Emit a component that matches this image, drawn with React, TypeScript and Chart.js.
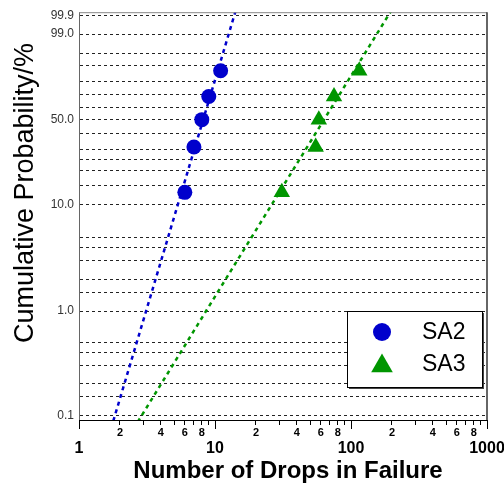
import React, { useEffect, useRef } from 'react';
import { Chart, registerables } from 'chart.js';

Chart.register(...registerables);

// ---- data ----
const seriesNames = ['SA2', 'SA3'];
const sa2Drops = [6, 7, 8, 9, 11];
const sa3Drops = [31, 55, 58, 75, 115];
const cumulativePct = [12.96, 31.48, 50, 68.52, 87.04];
// Weibull fit parameters (shape beta, scale eta) for the dashed lines
const sa2Beta = 4.38;
const sa2Eta = 8.9;
const sa3Beta = 2.12;
const sa3Eta = 75.3;
// y gridlines (percent) and which of them carry labels
const gridPct = [0.1, 0.15, 0.2, 0.3, 0.4, 0.5, 1, 1.5, 2, 3, 4, 5, 10, 15, 20, 25, 30, 40, 50, 60, 70, 80, 90, 95, 99, 99.9];
const labeledPct = [0.1, 1, 10, 50, 99, 99.9];
const yMinPct = 0.0902;
const yMaxPct = 99.943;
// x ticks
const xMinorTicks = [1, 2, 3, 4, 5, 6, 7, 8, 9, 10, 20, 30, 40, 50, 60, 70, 80, 90, 100, 200, 300, 400, 500, 600, 700, 800, 900, 1000];
const xMinorLabels = [2, 4, 6, 8];
const xMajorTicks = [1, 10, 100, 1000];
const xTitle = 'Number of Drops in Failure';
const yTitle = 'Cumulative Probability/%';

const FONT = '"Liberation Sans", Arial, sans-serif';
const BLUE = '#0000CC';
const GREEN = '#009600';

const weib = (pct: number) => Math.log(-Math.log(1 - pct / 100));
const fitLine = (beta: number, eta: number) =>
  [1, 1000].map((x) => ({ x, y: beta * (Math.log(x) - Math.log(eta)) }));

const decorPlugin = {
  id: 'decor',
  afterDraw(chart: any) {
    const { ctx, chartArea: a, scales } = chart;
    ctx.save();
    // frame top & right
    ctx.lineWidth = 1;
    ctx.strokeStyle = '#888';
    ctx.beginPath();
    ctx.moveTo(a.left, a.top + 0.5);
    ctx.lineTo(a.right, a.top + 0.5);
    ctx.stroke();
    ctx.strokeStyle = '#333';
    ctx.lineWidth = 1.5;
    ctx.beginPath();
    ctx.moveTo(a.right, a.top);
    ctx.lineTo(a.right, a.bottom);
    ctx.stroke();
    // long major ticks
    ctx.strokeStyle = '#000';
    ctx.lineWidth = 1;
    for (const v of xMajorTicks) {
      const px = Math.round(scales.x.getPixelForValue(v)) + 0.5;
      ctx.beginPath();
      ctx.moveTo(px, a.bottom);
      ctx.lineTo(px, a.bottom + 9);
      ctx.stroke();
    }
    // axis titles
    ctx.fillStyle = '#000';
    ctx.textAlign = 'center';
    ctx.textBaseline = 'middle';
    ctx.font = `bold 24px ${FONT}`;
    ctx.fillText(xTitle, 288, 471);
    ctx.save();
    ctx.translate(26, 193);
    ctx.rotate(-Math.PI / 2);
    ctx.font = `27px ${FONT}`;
    ctx.fillText(yTitle, 0, 0);
    ctx.restore();

    // legend
    const bx = 347, by = 311, bw = 135, bh = 76;
    ctx.fillStyle = '#444';
    ctx.fillRect(bx + 2, by + 2, bw, bh);
    ctx.fillStyle = '#fff';
    ctx.fillRect(bx, by, bw, bh);
    ctx.strokeStyle = '#000';
    ctx.lineWidth = 1;
    ctx.strokeRect(bx + 0.5, by + 0.5, bw, bh);
    const pts = chart.data.datasets.filter((d: any) => d.showLine === false);
    pts.forEach((d: any, i: number) => {
      const cx = 382, cy = 332 + i * 32;
      ctx.fillStyle = d.backgroundColor;
      ctx.beginPath();
      if (d.pointStyle === 'triangle') {
        const r = 12.5;
        for (let k = 0; k < 3; k++) {
          const ang = (k * 2 * Math.PI) / 3;
          const X = cx + Math.sin(ang) * r, Y = cy + 2 - Math.cos(ang) * r;
          k === 0 ? ctx.moveTo(X, Y) : ctx.lineTo(X, Y);
        }
        ctx.closePath();
      } else {
        ctx.arc(cx, cy, 9, 0, Math.PI * 2);
      }
      ctx.fill();
      ctx.fillStyle = '#000';
      ctx.textAlign = 'left';
      ctx.font = `23px ${FONT}`;
      ctx.fillText(d.label, 422, cy + 1);
    });
    ctx.restore();
  },
};

export default function App() {
  const ref = useRef<HTMLCanvasElement>(null);
  useEffect(() => {
    document.body.style.margin = '0';
    const canvas = ref.current!;
    const chart = new Chart(canvas, {
      type: 'line',
      data: {
        datasets: [
          {
            label: seriesNames[0],
            data: sa2Drops.map((x, i) => ({ x, y: weib(cumulativePct[i]) })),
            showLine: false,
            pointStyle: 'circle',
            pointRadius: 7.5,
            pointBorderWidth: 0,
            backgroundColor: BLUE,
            borderColor: BLUE,
          },
          {
            label: seriesNames[1],
            data: sa3Drops.map((x, i) => ({ x, y: weib(cumulativePct[i]) })),
            showLine: false,
            pointStyle: 'triangle',
            pointRadius: 9.5,
            pointBorderWidth: 0,
            backgroundColor: GREEN,
            borderColor: GREEN,
          },
          {
            label: seriesNames[0] + ' fit',
            data: fitLine(sa2Beta, sa2Eta),
            borderColor: BLUE,
            borderWidth: 2.5,
            borderDash: [4, 4],
            pointRadius: 0,
            fill: false,
          },
          {
            label: seriesNames[1] + ' fit',
            data: fitLine(sa3Beta, sa3Eta),
            borderColor: GREEN,
            borderWidth: 2.5,
            borderDash: [4, 4],
            pointRadius: 0,
            fill: false,
          },
        ],
      },
      options: {
        animation: false,
        responsive: false,
        events: [],
        layout: { padding: { top: 11, right: 17, left: 0, bottom: 0 } },
        plugins: { legend: { display: false }, tooltip: { enabled: false }, title: { display: false } },
        scales: {
          x: {
            type: 'logarithmic',
            position: 'bottom',
            min: 1,
            max: 1000,
            afterBuildTicks: (s: any) => {
              s.ticks = xMinorTicks.map((v) => ({ value: v }));
            },
            afterFit: (s: any) => {
              s.height = 18;
              s.paddingLeft = 0;
              s.paddingRight = 0;
            },
            ticks: {
              autoSkip: false,
              maxRotation: 0,
              padding: 1,
              color: '#000',
              font: { family: FONT, size: 11, weight: 'bold' },
              callback: (v: any) => {
                const n = Number(v);
                const mant = Math.round(n / Math.pow(10, Math.floor(Math.log10(n) + 1e-9)));
                return xMinorLabels.includes(mant) ? String(mant) : '';
              },
            },
            grid: { drawOnChartArea: false, drawTicks: true, tickLength: 5, color: '#000' },
            border: { color: '#000', width: 1 },
          },
          xMajor: {
            type: 'logarithmic',
            position: 'bottom',
            min: 1,
            max: 1000,
            afterBuildTicks: (s: any) => {
              s.ticks = xMajorTicks.map((v) => ({ value: v }));
            },
            afterFit: (s: any) => {
              s.height = 56;
              s.paddingLeft = 0;
              s.paddingRight = 0;
            },
            ticks: {
              autoSkip: false,
              maxRotation: 0,
              padding: 1,
              color: '#000',
              font: { family: FONT, size: 16, weight: 'bold' },
              callback: (v: any) => String(v),
            },
            grid: { display: false, drawTicks: false },
            border: { display: false },
          },
          y: {
            type: 'linear',
            min: weib(yMinPct),
            max: weib(yMaxPct),
            afterBuildTicks: (s: any) => {
              s.ticks = gridPct.map((p) => ({ value: weib(p) }));
            },
            afterFit: (s: any) => {
              s.width = 79;
            },
            ticks: {
              autoSkip: false,
              padding: 5,
              color: '#333',
              font: { family: FONT, size: 12 },
              callback: (_v: any, i: number) =>
                labeledPct.includes(gridPct[i]) ? gridPct[i].toFixed(1) : '',
            },
            grid: { drawTicks: false, color: '#222', lineWidth: 1 },
            border: { dash: [3, 3], color: '#666', width: 1 },
          },
        },
      } as any,
      plugins: [decorPlugin],
    });
    return () => chart.destroy();
  }, []);
  return <canvas ref={ref} width={504} height={494} style={{ display: 'block' }} />;
}
